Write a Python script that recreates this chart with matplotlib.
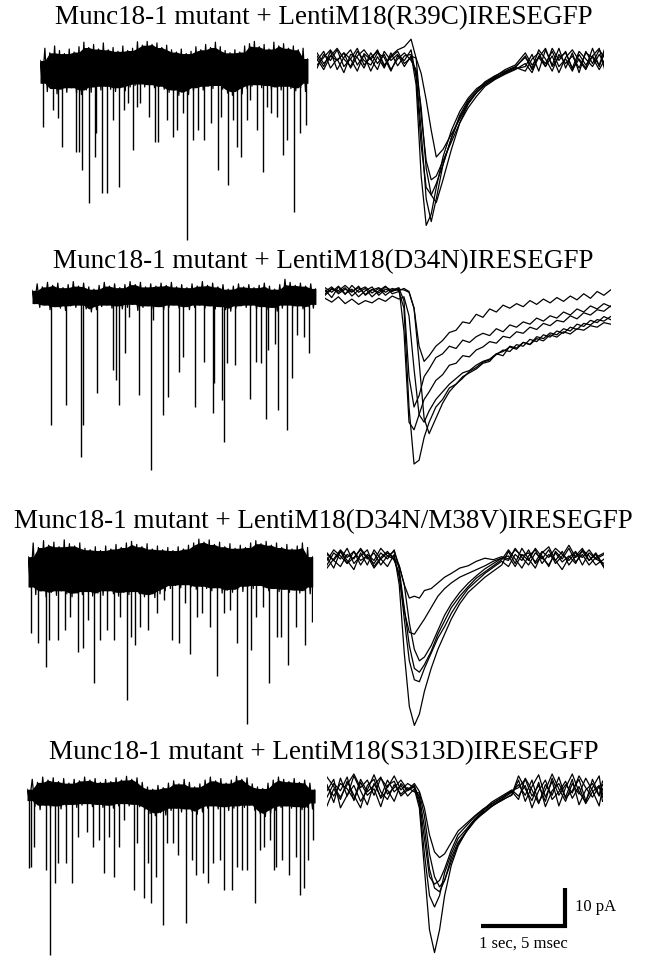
import matplotlib
matplotlib.use('Agg')
import matplotlib.pyplot as plt
import numpy as np

# ---------------- data ----------------
titles = [
    "Munc18-1 mutant + LentiM18(R39C)IRESEGFP",
    "Munc18-1 mutant + LentiM18(D34N)IRESEGFP",
    "Munc18-1 mutant + LentiM18(D34N/M38V)IRESEGFP",
    "Munc18-1 mutant + LentiM18(S313D)IRESEGFP",
]

# continuous recordings (left): duration (s), event times (s), event amplitudes (pA),
# and the upper / lower edge of the noise band (pA)
rec_len = [3.19, 3.38, 3.39, 3.43]

ev1_t = [0.04, 0.16, 0.22, 0.26, 0.43, 0.46, 0.50, 0.58, 0.65, 0.67, 0.74, 0.80, 0.87, 0.94, 1.00,
         1.05, 1.11, 1.15, 1.19, 1.30, 1.37, 1.41, 1.51, 1.58, 1.63, 1.70, 1.75, 1.82, 1.88, 1.95,
         2.04, 2.12, 2.16, 2.24, 2.30, 2.35, 2.39, 2.46, 2.50, 2.58, 2.65, 2.70, 2.75, 2.82, 2.89,
         2.94, 3.02, 3.10, 3.17]
ev1_a = [-15.4, -11.1, -13.2, -20.7, -22, -22, -26.8, -35.6, -23.3, -17.2, -33, -33, -13.7, -31.2, -11.1,
         -9.3, -21.6, -10.2, -9.3, -12.8, -19.4, -19.4, -13.7, -18.1, -16.3, -11.9, -45.3, -18.9, -16.3, -18.9,
         -14.6, -26.8, -12.8, -30.8, -13.7, -20.7, -23.3, -13.7, -8.4, -16.3, -27.3, -10.2, -11.9, -12.8, -22.9,
         -18.9, -37.8, -17.2, -15]
band1_hi = [2.0, 5.2, 4.0, 5.8, 4.6, 3.8, 5.0, 4.2, 5.6, 6.8, 5.4, 6.2, 5.0, 6.6, 4.8, 5.4, 4.4, 5.8, 4.6, 5.2,
            6.9, 6.0, 7.0, 6.2, 6.6, 5.4, 6.0, 4.8, 4.2, 5.0, 3.8, 4.4, 5.6, 4.8, 6.2, 5.4, 6.8, 5.6, 4.6, 4.0,
            4.8, 4.2, 5.8, 6.4, 7.0, 5.6, 6.2, 5.0, 6.8, 5.8, 6.4, 5.2, 5.8, 4.8, 5.2, 2.5]
band1_lo = [-4.0, -6.2, -5.4, -6.8, -5.6, -6.4, -5.2, -6.6, -7.0, -5.8, -6.4, -5.0, -5.8, -4.8, -5.6, -6.2,
            -5.2, -6.0, -5.0, -4.6, -4.2, -5.0, -4.4, -5.2, -4.8, -5.6, -6.4, -5.8, -7.2, -6.4, -7.0, -6.0,
            -5.2, -5.8, -4.8, -5.4, -4.6, -5.6, -6.6, -7.2, -6.2, -6.8, -5.4, -4.8, -4.4, -5.2, -4.6, -5.6,
            -5.0, -5.8, -4.8, -5.4, -6.0, -5.2, -6.2, -4.0]

ev2_t = [0.23, 0.40, 0.58, 0.61, 0.77, 0.97, 1.00, 1.04, 1.11, 1.16, 1.27, 1.42, 1.44, 1.56, 1.62, 1.75,
         1.80, 1.94, 2.05, 2.15, 2.17, 2.26, 2.29, 2.32, 2.42, 2.60, 2.67, 2.73, 2.79, 2.81, 2.89, 2.93,
         3.04, 3.10, 3.16, 3.24, 3.30]
ev2_a = [-33.9, -28.7, -42.3, -33.9, -25.4, -19.5, -22.1, -28.7, -15.1, -5.4, -26.1, -45.8, -6.3, -31.3,
         -26.5, -19.9, -16, -29.1, -17.3, -30.9, -23, -27.4, -38.3, -17.7, -18.2, -27.2, -17.3, -17.7, -32.4,
         -14.2, -12.5, -30, -35.3, -21.7, -10.3, -10.7, -15.1]
band2_hi = [1.5, 3.2, 2.4, 3.6, 2.8, 3.4, 2.2, 3.0, 3.8, 2.6, 3.4, 2.4, 1.8, 2.8, 3.6, 2.6, 3.2, 2.2, 3.0, 3.8,
            3.0, 3.6, 2.4, 3.2, 2.6, 3.4, 2.8, 3.6, 2.4, 3.0, 2.2, 3.2, 2.6, 3.8, 2.8, 3.4, 2.4, 3.0, 1.8, 2.6,
            3.2, 2.4, 3.0, 2.2, 2.8, 3.4, 2.6, 1.8, 3.0, 4.4, 3.6, 2.8, 3.4, 2.6, 3.2, 2.0]
band2_lo = [-2.0, -3.0, -2.4, -3.6, -2.8, -3.2, -3.8, -2.6, -3.0, -2.4, -3.4, -4.2, -3.6, -2.8, -2.4, -3.2,
            -2.6, -3.4, -3.0, -2.2, -3.8, -3.0, -2.6, -3.4, -2.8, -3.6, -3.0, -2.4, -3.2, -2.8, -3.6, -3.0,
            -2.4, -3.2, -2.6, -3.4, -2.8, -3.6, -4.0, -3.2, -2.6, -3.0, -2.4, -3.4, -2.8, -3.6, -3.0, -4.0,
            -3.2, -2.4, -3.0, -2.6, -3.4, -2.8, -3.2, -2.2]

ev3_t = [0.04, 0.12, 0.21, 0.25, 0.36, 0.44, 0.50, 0.59, 0.65, 0.72, 0.79, 0.86, 0.94, 1.02, 1.09, 1.18,
         1.23, 1.27, 1.33, 1.43, 1.53, 1.62, 1.71, 1.80, 1.87, 1.93, 2.01, 2.07, 2.17, 2.25, 2.33, 2.40,
         2.49, 2.61, 2.65, 2.72, 2.80, 2.87, 2.96, 3.01, 3.09, 3.19, 3.30, 3.38]
ev3_a = [-17.2, -19.8, -26, -18.9, -18.9, -16.3, -12.8, -22, -21.1, -13.7, -30.2, -18.9, -16.3, -18.9,
         -12.8, -34.7, -18.1, -20.3, -15.4, -16.3, -11.9, -8.4, -18.9, -19.8, -9.3, -22.5, -12.8, -11.9,
         -15.4, -28.4, -11.9, -11.1, -19.8, -41, -21.6, -12.8, -10.2, -30.2, -18.1, -18.1, -25.5, -15.4,
         -20.3, -14.1]
band3_hi = [3.0, 6.6, 5.4, 7.2, 6.0, 6.8, 5.6, 7.4, 6.4, 5.8, 6.6, 5.2, 4.8, 5.6, 4.6, 5.8, 5.0, 6.2, 5.4, 6.6,
            7.0, 6.2, 5.6, 6.4, 5.0, 5.8, 4.8, 5.4, 4.6, 5.6, 5.0, 6.0, 6.6, 7.6, 6.8, 7.4, 6.2, 6.8, 5.6, 6.4,
            5.2, 6.0, 5.4, 6.6, 7.2, 6.4, 7.0, 6.0, 6.6, 5.4, 6.2, 5.0, 5.8, 6.6, 5.4, 3.0]
band3_lo = [-5.0, -7.0, -6.0, -7.6, -6.4, -7.2, -6.0, -6.8, -7.6, -6.6, -7.0, -6.2, -7.4, -6.6, -7.2, -6.0,
            -6.8, -7.4, -6.4, -7.0, -6.2, -6.8, -7.6, -7.0, -7.8, -6.8, -6.0, -5.4, -4.6, -5.2, -4.4, -5.0,
            -5.6, -4.8, -5.4, -6.0, -5.2, -6.6, -5.8, -6.4, -5.6, -6.2, -4.8, -5.4, -4.6, -5.2, -6.0, -5.4,
            -6.2, -5.6, -6.4, -5.8, -6.6, -6.0, -6.8, -5.0]

ev4_t = [0.02, 0.05, 0.08, 0.23, 0.27, 0.33, 0.37, 0.46, 0.54, 0.61, 0.72, 0.79, 0.86, 0.92, 0.98, 1.04,
         1.09, 1.15, 1.27, 1.31, 1.39, 1.44, 1.48, 1.54, 1.62, 1.67, 1.74, 1.80, 1.89, 1.96, 2.01, 2.09,
         2.16, 2.22, 2.30, 2.34, 2.44, 2.50, 2.56, 2.62, 2.72, 2.77, 2.82, 2.89, 2.94, 2.97, 3.04, 3.12,
         3.20, 3.25, 3.30, 3.35, 3.41]
ev4_a = [-19.8, -19.4, -14.1, -20.3, -42.6, -23.8, -18.5, -18.5, -23.6, -11.5, -10.2, -14.1, -12.4, -21.1,
         -11.5, -22, -14.1, -7.1, -25.5, -13.2, -27.7, -18.5, -29, -22, -34.7, -13.2, -13.2, -16.3, -34.1,
         -17.6, -21.6, -21.1, -23.8, -18.5, -17.6, -25.5, -25.5, -19.4, -20.3, -20.3, -28.9, -15, -14.1,
         -12.4, -20.3, -19.4, -17.6, -21.6, -16.8, -26.8, -25.1, -17.6, -12.4]
band4_hi = [1.0, 3.6, 2.8, 4.2, 3.4, 4.0, 3.0, 3.8, 2.6, 3.6, 3.2, 4.2, 3.4, 3.8, 2.8, 3.6, 3.0, 4.0, 3.4, 4.4,
            3.6, 4.0, 2.8, 1.6, 1.0, 2.0, 1.4, 2.6, 3.2, 2.4, 3.6, 2.8, 1.6, 2.4, 3.4, 4.2, 3.2, 3.8, 2.6, 3.4,
            4.4, 3.6, 4.0, 2.4, 1.6, 1.2, 2.6, 3.4, 4.2, 3.6, 3.0, 3.8, 2.8, 3.4, 2.6, 1.0]
band4_lo = [-2.0, -3.6, -4.4, -3.2, -4.0, -3.4, -4.2, -3.6, -3.0, -3.8, -3.2, -2.8, -3.6, -3.0, -3.8, -3.2,
            -4.0, -3.4, -2.8, -3.4, -3.0, -3.6, -4.4, -5.4, -6.0, -5.2, -5.8, -4.6, -4.0, -5.0, -4.2, -4.8,
            -5.6, -5.0, -4.0, -3.4, -4.2, -3.6, -4.6, -4.0, -3.4, -3.8, -3.2, -4.6, -5.4, -6.2, -5.4, -4.6,
            -3.8, -3.4, -4.0, -3.6, -4.4, -3.8, -4.2, -2.6]

# averaged single events (right): time (ms) and overlaid traces (pA)
t_ev1 = [0.0, 0.4, 0.8, 1.2, 1.6, 2.0, 2.4, 2.8, 3.2, 3.6, 4.0, 4.4, 4.8, 5.2, 5.6,
         5.9, 6.2, 6.5, 6.8, 7.1, 7.5, 8.0, 8.5, 9.0, 9.5, 10.0, 10.6, 11.2, 11.8,
         12.4, 12.8, 13.2, 13.6, 14.0, 14.4, 14.8, 15.2, 15.6, 16.0, 16.4, 16.8, 17.1]
mini1 = [
    [1.6, -1.2, 2.8, -2.0, 1.2, 3.2, -0.8, 1.8, -2.4, 1.4, -1.6, 2.4, -1.0, 1.6, 2.0,
     -6, -30, -43, -40, -33, -25, -18, -13, -9.5, -7, -5.5, -4, -3, -1.8,
     -1.2, 2.0, -2.4, 3.2, -0.8, 3.6, -1.6, 2.4, -2.8, 2.8, -0.4, 3.2, 1.2],
    [-1.6, 2.0, 0.4, 3.2, -1.2, 0.8, -2.4, 2.2, 0.6, 3.2, -0.8, 1.2, 2.8, -0.4, 1.2,
     -3, -18, -36, -42, -36, -27, -20, -14.5, -10.5, -8, -6, -4.2, -2.6, -1.5,
     1.6, -2.0, 1.2, -1.2, 3.6, 0.4, 2.8, -2.0, 0.8, -1.6, 3.6, -1.2, 2.4],
    [0.4, 2.8, -1.6, 0.8, -2.8, 2.0, 1.2, -1.6, 2.4, -0.4, 2.0, -2.0, 0.8, 2.4, 0.4,
     -2, -12, -28, -35, -37, -31, -23, -16, -11, -8, -6, -4.4, -2.8, -1.4,
     -2.4, 0.8, 2.4, -1.2, 1.6, -2.8, 1.2, 3.2, 0.4, -2.0, 1.6, -0.8, 3.2],
    [2.4, -0.4, 1.6, 3.6, 0.8, -1.2, 2.8, 0.4, -0.8, 2.4, 1.2, -2.4, 1.6, 0.4, 3.2,
     -4, -22, -33, -35, -32, -27, -20, -14, -10, -7.5, -5.2, -3.6, -2.4, -1.2,
     1.2, -1.6, 3.2, 0.8, -2.4, 2.0, -0.4, 1.6, -1.6, 2.4, 1.2, -2.0, 0.4],
    [-0.8, 1.2, 3.2, 0.4, 2.4, -1.6, 1.6, 3.2, 0.8, -2.0, 2.8, 0.4, 2.0, -1.2, 1.6,
     1.0, -3, -10, -18, -25, -23, -19, -15, -11, -8, -5.6, -3.8, -2, -0.8,
     2.4, -0.8, 1.2, 3.6, -1.2, 1.2, 2.4, -1.6, 2.8, 0.8, -1.2, 2.0, -0.4],
    [0.8, -2.0, 1.6, 0.4, 2.4, 0.8, 3.6, -0.8, 1.2, 2.8, -1.2, 1.6, 3.2, 4.0, 6.0,
     1.0, -14, -26, -31, -30, -26, -21, -16, -12, -9, -6.4, -4.6, -3.2, -2.0,
     -0.4, -2.8, 1.6, -0.4, 2.8, -1.2, 0.8, -2.4, 2.0, -0.8, 1.6, 3.6, -1.6],
]

t_ev2 = [0.0, 0.4, 0.8, 1.2, 1.6, 2.0, 2.4, 2.8, 3.2, 3.6, 4.0, 4.4,
         4.7, 5.0, 5.3, 5.6, 5.9, 6.2, 6.6, 7.0, 7.4, 7.8, 8.2, 8.6, 9.0, 9.4, 9.8, 10.2, 10.6,
         11.0, 11.4, 11.8, 12.2, 12.6, 13.0, 13.4, 13.8, 14.2, 14.6, 15.0, 15.4, 15.8, 16.2, 16.6, 17.0]
mini2 = [
    [0.8, -1.2, 1.6, -0.4, 2.0, 0.2, 1.2, -1.0, 0.6, 1.8, -0.2, 0.4,
     -4, -30, -45, -44, -38, -34, -30, -28, -25, -24, -22, -21, -20, -18.5, -18, -16, -16.5,
     -14, -14.5, -13, -13.5, -11.5, -12, -10.5, -11, -9.4, -10, -8.2, -8.8, -7.2, -7.8, -6.2, -7.0],
    [-0.6, 1.0, 0.2, 1.4, -0.8, 0.8, 1.6, 0.0, 1.2, -0.6, 0.8, 1.4,
     -10, -34, -36, -32, -28, -26, -23, -21.5, -19, -18.5, -16.5, -16.8, -15, -14.2, -12.8, -13.2, -11.4,
     -11.8, -10.2, -10.6, -9.0, -9.6, -8.0, -8.6, -7.2, -7.6, -6.0, -6.8, -5.2, -5.8, -4.4, -4.8, -3.4],
    [1.4, 0.2, 1.8, -0.2, 1.0, -1.0, 0.6, 1.6, -0.6, 1.0, 0.4, 1.2,
     -2, -22, -30, -27, -22, -20, -17, -16, -14, -14.6, -12.4, -13, -11.5, -10.6, -11.2, -9.4, -10.2,
     -8.4, -9.0, -7.6, -8.2, -6.6, -7.4, -6.0, -6.6, -5.0, -5.8, -4.2, -5.0, -3.4, -4.2, -2.8, -3.6],
    [-1.4, -2.4, -1.0, -2.8, -1.6, -3.0, -2.0, -2.6, -1.4, -2.2, -0.8, -1.6,
     -1.0, -6, -20, -32, -34, -31, -28, -26, -24, -22.5, -21, -20.4, -19, -18, -17.4, -16, -15.4,
     -14.2, -14.8, -13.0, -13.6, -12.0, -12.6, -11.0, -11.6, -10.2, -10.8, -9.4, -9.8, -8.6, -9.0, -7.8, -8.2],
    [0.4, 1.6, -0.2, 1.0, 0.2, 1.8, -0.6, 0.8, 1.4, 0.2, 1.2, 0.6,
     1.2, 0.4, -4, -18, -33, -37, -33, -29, -26, -24, -22.4, -20.6, -19.6, -18.2, -17.6, -16.2, -15.0,
     -15.4, -13.6, -14.0, -12.2, -12.8, -11.0, -11.6, -10.0, -10.6, -9.0, -9.6, -8.0, -8.4, -7.0, -7.4, -6.2],
    [-0.2, 1.2, 0.6, 2.0, 0.4, 1.4, -0.4, 1.0, 0.0, 1.6, 0.6, 1.0,
     0.8, 0.2, -4, -14, -18, -16.5, -14, -12.5, -10.4, -9.8, -7.6, -8.0, -5.6, -6.4, -4.2, -5.0, -3.2,
     -4.0, -2.8, -3.6, -2.0, -3.0, -1.6, -2.6, -1.2, -2.2, -0.8, -1.8, -0.2, -1.4, 0.4, -0.6, 0.8],
]

t_ev3 = [0.0, 0.4, 0.8, 1.2, 1.6, 2.0, 2.4, 2.8, 3.2, 3.6, 4.0,
         4.3, 4.6, 4.9, 5.2, 5.5, 5.8, 6.2, 6.6, 7.0, 7.4, 7.9, 8.4, 8.9, 9.4, 9.9, 10.4,
         10.8, 11.2, 11.6, 12.0, 12.4, 12.8, 13.2, 13.6, 14.0, 14.4, 14.8, 15.2, 15.6, 16.0, 16.5]
mini3 = [
    [1.2, -1.6, 2.8, 0.4, -2.0, 2.4, -0.8, 3.2, 0.8, -1.2, 2.0,
     -6, -24, -38, -43, -40, -34, -28, -23, -19, -15, -11, -8, -6, -4, -2.4, -0.8,
     2.8, -0.4, 3.6, 0.8, -1.6, 2.4, 4.0, 0.4, 2.8, -0.8, 1.6, 3.6, 0.4, 2.4, -1.2],
    [-0.8, 2.4, 0.8, 3.6, -0.4, 1.6, 3.2, -1.2, 1.2, 2.8, 0.4,
     -3, -15, -26, -31, -31.5, -28, -24, -20, -17, -13.5, -10, -7, -5, -3, -1.4, 0.2,
     -1.2, 2.0, 0.4, 3.2, -0.4, 1.6, -1.2, 2.8, 0.8, 3.6, 0.0, 2.0, -0.8, 1.2, 2.4],
    [2.4, 0.4, -1.2, 2.0, 0.8, 3.6, 1.2, -0.4, 2.4, 0.8, 3.2,
     -2, -12, -22, -28, -29, -27, -23.5, -19, -15.5, -12, -9, -6.5, -4.2, -2.6, -1.0, 0.6,
     3.2, 0.8, -1.6, 1.6, 3.2, -0.4, 2.0, 0.4, -2.0, 1.2, 2.8, -0.8, 2.4, 0.8, -0.4],
    [-1.6, 0.8, 3.2, 1.2, 2.8, -0.8, 2.0, 0.4, 3.6, 1.6, 0.8,
     -1, -6, -16, -23, -26, -25, -22, -18, -14, -11, -8, -5.6, -3.6, -1.8, -0.4, 1.0,
     0.4, 3.6, 1.2, -0.8, 2.4, 0.8, 3.2, -0.4, 1.6, 4.4, 1.2, 2.8, 0.4, 2.0, -1.6],
    [0.4, 3.2, 1.6, -0.4, 2.8, 0.4, 1.6, -1.6, 0.8, 2.4, 1.2,
     -4, -13, -18.5, -19, -17, -15, -12, -9, -7, -5.5, -4, -3, -2, -1, 0.2, 1.0,
     1.6, -1.2, 2.0, 0.4, 3.6, 1.2, -0.8, 2.4, 0.0, 1.6, -0.4, 3.2, 1.6, -0.8, 0.8],
    [2.0, 0.4, 2.8, -0.4, 1.2, 3.2, 0.8, 2.4, -0.8, 1.6, 2.8,
     -1, -6, -9.5, -9, -9.5, -7.5, -7, -5.5, -4, -3, -1.6, -1.0, 0.2, 1.0, 0.6, 1.4,
     0.8, 3.2, 1.6, 2.4, 0.0, 2.8, 1.2, 3.6, 2.0, 0.4, 2.4, 1.2, 3.2, 0.8, 2.0],
]

t_ev4 = [0.0, 0.4, 0.8, 1.2, 1.6, 2.0, 2.4, 2.8, 3.2, 3.6, 4.0, 4.4, 4.8, 5.2,
         5.5, 5.8, 6.1, 6.4, 6.7, 7.0, 7.4, 7.8, 8.3, 8.8, 9.3, 9.8, 10.4, 11.0,
         11.4, 11.8, 12.2, 12.6, 13.0, 13.4, 13.8, 14.2, 14.6, 15.0, 15.4, 15.8, 16.2, 16.4]
mini4 = [
    [2.2, -2.5, 3.9, -0.8, 4.5, 0.6, -3.1, 2.5, -1.1, 3.4, 0.3, 2.0, -0.8, 1.1,
     -4, -20, -36, -42, -36, -27, -19, -14, -10, -7, -5.4, -3.6, -1.8, -0.6,
     3.4, -2.2, 1.7, 4.8, -1.1, 3.1, -3.4, 1.4, 5.0, 0.3, -2.5, 3.6, -0.6, 2.2],
    [-3.4, 1.1, -1.7, 3.1, -0.6, -3.9, 2.0, 3.6, -1.4, 0.8, -2.2, 2.5, 0.6, 1.7,
     -3, -16, -27, -30, -27, -21, -16, -12, -9.5, -6.8, -4.6, -3.0, -1.2, 0.4,
     -1.7, 3.9, 0.8, -2.8, 2.2, -0.6, 4.2, -1.4, 0.6, 3.6, -2.0, 1.4, 4.5, -1.1],
    [4.2, 1.7, -1.1, 2.2, 5.0, 1.4, 3.4, -0.6, 3.9, 1.4, 4.5, 0.8, 2.5, 1.4,
     -1, -9, -20, -25, -26, -23, -17, -13, -10, -7, -5, -3.4, -1.6, 0.2,
     2.2, -0.6, 3.4, -2.5, 0.8, 5.0, 1.1, -2.2, 2.5, -0.3, 3.9, 0.6, -3.4, 1.1],
    [0.6, 3.6, -3.9, -0.6, 2.0, -2.2, 0.8, 4.8, 0.3, -1.7, 2.2, -0.3, 1.4, 0.3,
     0, -6, -16, -22, -24.7, -23, -18, -13.5, -10.2, -7.4, -5.2, -3.4, -2.0, -0.4,
     4.5, 1.1, -2.0, 2.8, -3.6, 0.6, 2.5, -1.1, 3.6, -3.1, 0.8, 2.5, -0.8, 3.1],
    [-1.1, 2.5, 0.6, 4.2, -2.0, 2.8, -0.6, 1.1, -3.6, 2.0, 3.1, -0.8, 0.8, 2.0,
     -2, -12, -22, -24, -23, -20, -15, -11, -8.6, -6.2, -4.4, -2.4, -0.8, 0.8,
     -0.8, 2.0, -3.9, 0.6, 3.4, -1.7, 0.3, 3.1, -1.4, 1.7, -2.8, 0.3, 2.0, -2.2],
    [1.7, -0.8, 2.5, 1.1, -1.7, 3.6, 0.3, 2.0, 4.2, -0.3, 1.4, 3.4, 0.8, 2.5,
     0.4, -4, -11, -15.5, -17, -16, -13, -10, -8, -6, -4.2, -2.8, -1.2, 0.6,
     1.4, 3.6, -0.8, 2.0, -2.2, 3.9, -0.6, 2.2, 0.0, 4.5, 1.4, -1.1, 1.7, -0.3],
]

bar_pA = 10   # vertical scale bar
bar_ms = 5    # horizontal scale bar (= 1 s on the left traces)

# ---------------- layout ----------------
W, H = 647, 956
PX_S, PX_MS, PX_PA = 84.0, 16.8, 3.8
SERIF = ['Liberation Serif', 'DejaVu Serif']

fig = plt.figure(figsize=(W / 100, H / 100), dpi=100)


def trace_axes(x0, yb, span, px_per_unit):
    top, bot = yb - 20 * PX_PA, yb + 60 * PX_PA
    ax = fig.add_axes([x0 / W, 1 - bot / H, span * px_per_unit / W, (bot - top) / H])
    ax.set_xlim(0, span)
    ax.set_ylim(-60, 20)
    ax.axis('off')
    return ax


def noise_band(ax, span, hi, lo):
    hi, lo = np.asarray(hi), np.asarray(lo)
    tb = np.linspace(0, span, len(hi))
    d = tb[1] - tb[0]
    # solid core, then a zig-zag out to the extremes so the edge looks like a dense trace
    core_hi = np.minimum(hi, np.minimum(np.r_[hi[0], hi[:-1]], np.r_[hi[1:], hi[-1]]))
    core_lo = np.maximum(lo, np.maximum(np.r_[lo[0], lo[:-1]], np.r_[lo[1:], lo[-1]]))
    ax.fill_between(tb, core_lo, core_hi, color='black', lw=0)
    tz = np.ravel(np.column_stack([tb, np.minimum(tb + d / 2, span)]))
    zz = np.ravel(np.column_stack([hi, lo]))
    ax.plot(tz, zz, color='black', lw=0.9)


left_pos = [(40, 68), (32, 296), (28, 568), (27, 793)]
right_pos = [(317, 62), (325, 293), (327, 562), (327, 793)]
title_y = [18, 262, 522, 753]

events = [(ev1_t, ev1_a), (ev2_t, ev2_a), (ev3_t, ev3_a), (ev4_t, ev4_a)]
bands = [(band1_hi, band1_lo), (band2_hi, band2_lo), (band3_hi, band3_lo), (band4_hi, band4_lo)]
minis = [(t_ev1, mini1), (t_ev2, mini2), (t_ev3, mini3), (t_ev4, mini4)]

for i in range(4):
    fig.text(0.5, 1 - title_y[i] / H, titles[i], ha='center', va='center',
             fontsize=19.5, family=SERIF)

    # continuous recording
    ax = trace_axes(left_pos[i][0], left_pos[i][1], rec_len[i], PX_S)
    noise_band(ax, rec_len[i], *bands[i])
    et, ea = events[i]
    ax.vlines(et, 0, ea, color='black', lw=1.0)

    # overlaid single events
    t, traces = minis[i]
    ax2 = trace_axes(right_pos[i][0], right_pos[i][1], t[-1], PX_MS)
    for tr in traces:
        ax2.plot(t, tr, color='black', lw=0.9)

# scale bar on the last event panel
x_end = 14.17
ax2.plot([x_end - bar_ms, x_end, x_end], [-35, -35, -35 + bar_pA], color='black',
         lw=3, solid_joinstyle='miter', solid_capstyle='butt', clip_on=False)
ax2.text(x_end + 0.6, -35 + bar_pA / 2, '10 pA', ha='left', va='center', fontsize=12, family=SERIF)
ax2.text(x_end - bar_ms / 2, -39.6, '1 sec, 5 msec', ha='center', va='center', fontsize=12, family=SERIF)

fig.savefig('out.png', dpi=100)
